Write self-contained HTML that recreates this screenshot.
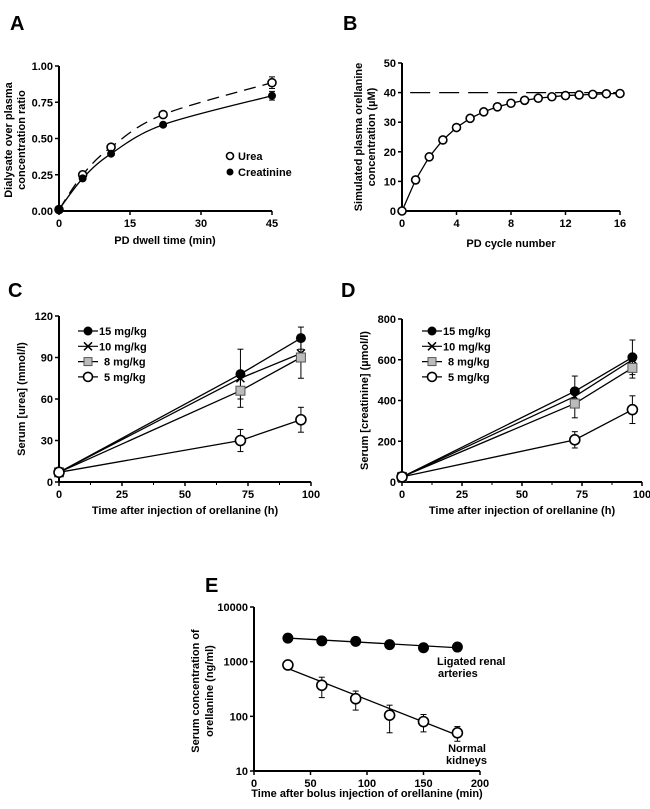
<!DOCTYPE html>
<html><head><meta charset="utf-8"><style>
body{margin:0;background:#fff}
svg{display:block;font-family:"Liberation Sans",Arial,sans-serif;font-weight:bold}
</style></head><body>
<svg id="fig" width="650" height="809" viewBox="0 0 650 809"></svg>
<script>
// ---- Panel A data
const aTime=[0,5,11,22,45];
const aUrea=[0.01,0.25,0.44,0.665,0.885];
const aUreaErr=[0,0.01,0.01,0.01,0.04];
const aCreat=[0.01,0.225,0.395,0.595,0.795];
const aCreatErr=[0,0.01,0.01,0.01,0.03];
const aXTicks=[0,15,30,45];
const aYTicks=[0,0.25,0.5,0.75,1.0];
// ---- Panel B data
const bCycle=[0,1,2,3,4,5,6,7,8,9,10,11,12,13,14,15,16];
const bConc=[0,10.5,18.3,24,28.2,31.3,33.5,35.2,36.4,37.4,38.1,38.6,39,39.2,39.4,39.6,39.7];
const bXTicks=[0,4,8,12,16];
const bYTicks=[0,10,20,30,40,50];
// ---- Panel C / D data
const cdTime=[0,72,96];
const cdSeries=["15 mg/kg","10 mg/kg","8 mg/kg","5 mg/kg"];
const cUrea15=[7,78,104], cUrea15Err=[1,18,8];
const cUrea10=[7,75,93], cUrea10Err=[1,0,0];
const cUrea8=[7,66,90], cUrea8Err=[1,12,15];
const cUrea5=[7,30,45], cUrea5Err=[1,8,9];
const dCre15=[25,445,612], dCre15Err=[5,75,85];
const dCre10=[25,420,600], dCre10Err=[5,0,0];
const dCre8=[25,385,560], dCre8Err=[5,70,50];
const dCre5=[25,207,355], dCre5Err=[5,40,68];
const cdXTicks=[0,25,50,75,100];
const cYTicks=[0,30,60,90,120];
const dYTicks=[0,200,400,600,800];
// ---- Panel E data
const eTime=[30,60,90,120,150,180];
const eLigated=[2700,2400,2350,2050,1800,1850];
const eNormal=[870,370,210,105,80,50];
const eNormalErr=[150,150,80,55,28,15];
const eLigFit=[2700,1800];
const eNormFit=[750,45];
const eXTicks=[0,50,100,150,200];
const eYTicks=[10,100,1000,10000];

const svg=document.getElementById('fig');
const NS='http://www.w3.org/2000/svg';
function mk(tag,attrs,name,parent){
  const e=document.createElementNS(NS,tag);
  for(const k in attrs)e.setAttribute(k,attrs[k]);
  
  
  (parent||svg).appendChild(e);return e;
}
function txt(x,y,s,name,o){
  o=o||{};
  const t=mk('text',{x:x,y:y,'font-size':o.fs||11,'text-anchor':o.anchor||'middle',fill:'#000'},name,o.p);
  if(o.rot)t.setAttribute('transform','rotate(-90 '+x+' '+y+')');
  t.textContent=s;return t;
}
function lin(a0,a1,p0,p1){return v=>p0+(v-a0)/(a1-a0)*(p1-p0);}
function logS(a0,a1,p0,p1){return v=>p0+(Math.log10(v)-Math.log10(a0))/(Math.log10(a1)-Math.log10(a0))*(p1-p0);}
function axes(X,Y,xt,yt,x0,y0,x1,y1,fmtY,pre,minor){
  mk('line',{x1:x0,y1:y0,x2:x0,y2:y1,stroke:'#000','stroke-width':2},pre+'-y-axis');
  mk('line',{x1:x0,y1:y0,x2:x1,y2:y0,stroke:'#000','stroke-width':2},pre+'-x-axis');
  xt.forEach(v=>{mk('line',{x1:X(v),y1:y0,x2:X(v),y2:y0+4,stroke:'#000','stroke-width':1.5},pre+'-x-tick');
    txt(X(v),y0+16,String(v),pre+'-x-tick-label');});
  if(minor){for(let i=0;i<xt.length-1;i++){const m=(xt[i]+xt[i+1])/2;
    mk('line',{x1:X(m),y1:y0,x2:X(m),y2:y0+3,stroke:'#000','stroke-width':1},pre+'-x-minor-tick');}}
  yt.forEach(v=>{mk('line',{x1:x0-4,y1:Y(v),x2:x0,y2:Y(v),stroke:'#000','stroke-width':1.5},pre+'-y-tick');
    txt(x0-6,Y(v)+4,fmtY(v),pre+'-y-tick-label',{anchor:'end'});});
}
function path(xs,ys,X,Y,name,dash,w){
  const d=xs.map((x,i)=>(i?'L':'M')+X(x)+','+Y(ys[i])).join(' ');
  const a={d:d,fill:'none',stroke:'#000','stroke-width':w||1.3};
  if(dash)a['stroke-dasharray']=dash;
  return mk('path',a,name);
}
function smooth(xs,ys,X,Y,name,dash){
  const P=xs.map((x,i)=>[X(x),Y(ys[i])]);
  let d='M'+P[0][0]+','+P[0][1];
  for(let i=0;i<P.length-1;i++){
    const p0=P[Math.max(0,i-1)],p1=P[i],p2=P[i+1],p3=P[Math.min(P.length-1,i+2)];
    const c1=[p1[0]+(p2[0]-p0[0])/6,p1[1]+(p2[1]-p0[1])/6];
    const c2=[p2[0]-(p3[0]-p1[0])/6,p2[1]-(p3[1]-p1[1])/6];
    d+=`C${c1[0]},${c1[1]} ${c2[0]},${c2[1]} ${p2[0]},${p2[1]}`;
  }
  const a={d:d,fill:'none',stroke:'#000','stroke-width':1.3};
  if(dash)a['stroke-dasharray']=dash;
  return mk('path',a,name);
}
function err(x,v,e,Y,name){
  if(!e)return;
  mk('line',{x1:x,y1:Y(v-e),x2:x,y2:Y(v+e),stroke:'#000','stroke-width':1},name);
  [v-e,v+e].forEach(z=>mk('line',{x1:x-3,y1:Y(z),x2:x+3,y2:Y(z),stroke:'#000','stroke-width':1},name+'-cap'));
}
function marker(kind,x,y,name,r){
  r=r||4.5;
  if(kind==='filled')return mk('circle',{cx:x,cy:y,r:r,fill:'#000'},name);
  if(kind==='open')return mk('circle',{cx:x,cy:y,r:r,fill:'#fff',stroke:'#000','stroke-width':1.6},name);
  if(kind==='square')return mk('rect',{x:x-r,y:y-r,width:2*r,height:2*r,fill:'#bbb',stroke:'#555','stroke-width':1},name);
  if(kind==='x'){const g=mk('g',{},name);
    mk('path',{d:`M${x-4},${y-4}L${x+4},${y+4}M${x-4},${y+4}L${x+4},${y-4}`,stroke:'#000','stroke-width':1.5},name+'-stroke',g);return g;}
}

// ---------------- Panel A
txt(10,30,'A','panel-a-label',{fs:20,anchor:'start'});
{const X=lin(0,45,59,272),Y=lin(0,1,211,66);
 axes(X,Y,aXTicks,aYTicks,59,211,272,66,v=>v.toFixed(2),'a');
 txt(165,244,'PD dwell time (min)','a-x-axis-title');
 txt(12,140,'Dialysate over plasma','a-y-axis-title',{rot:1});
 txt(25,140,'concentration ratio','a-y-axis-title-2',{rot:1});
 smooth(aTime,aUrea,X,Y,'a-urea-fit','12,7');
 smooth(aTime,aCreat,X,Y,'a-creatinine-fit');
 aTime.forEach((t,i)=>{err(X(t),aUrea[i],aUreaErr[i],Y,'a-urea-error');marker('open',X(t),Y(aUrea[i]),'a-urea-point',4);});
 aTime.forEach((t,i)=>{err(X(t),aCreat[i],aCreatErr[i],Y,'a-creatinine-error');marker('filled',X(t),Y(aCreat[i]),'a-creatinine-point',4);});
 marker('open',230,156,'legend-urea-marker',3.5);txt(238,160,'Urea','legend-urea',{anchor:'start'});
 marker('filled',230,172,'legend-creatinine-marker',3.5);txt(238,176,'Creatinine','legend-creatinine',{anchor:'start'});
}
// ---------------- Panel B
txt(343,30,'B','panel-b-label',{fs:20,anchor:'start'});
{const X=lin(0,16,402,620),Y=lin(0,50,211,63);
 axes(X,Y,bXTicks,bYTicks,402,211,620,63,v=>String(v),'b');
 txt(511,247,'PD cycle number','b-x-axis-title');
 txt(362,137,'Simulated plasma orellanine','b-y-axis-title',{rot:1});
 txt(375,137,'concentration (µM)','b-y-axis-title-2',{rot:1});
 mk('line',{x1:X(0.6),y1:Y(40),x2:X(16),y2:Y(40),stroke:'#000','stroke-width':1.3,'stroke-dasharray':'20,9'},'b-steady-state-line');
 path(bCycle,bConc,X,Y,'b-concentration-line');
 bCycle.forEach((c,i)=>marker('open',X(c),Y(bConc[i]),'b-point',4));
}
// ---------------- Panels C & D
function dosePanel(pre,x0,x1,y0,y1,ymax,yt,series,errs,ytitle,lx){
  const X=lin(0,100,x0,x1),Y=lin(0,ymax,y0,y1);
  axes(X,Y,cdXTicks,yt,x0,y0,x1,y1,v=>String(v),pre,true);
  txt((x0+x1)/2,y0+32,'Time after injection of orellanine (h)',pre+'-x-axis-title');
  txt(x0-34,(y0+y1)/2,ytitle,pre+'-y-axis-title',{rot:1});
  const kinds=['filled','x','square','open'];
  series.forEach((s,k)=>{
    path(cdTime,s,X,Y,pre+'-line-'+k);
    cdTime.forEach((t,i)=>err(X(t),s[i],errs[k][i],Y,pre+'-error-'+k));
  });
  series.forEach((s,k)=>cdTime.forEach((t,i)=>marker(kinds[k],X(t),Y(s[i]),pre+'-point-'+k,kinds[k]==='square'?4.5:5)));
  cdSeries.forEach((n,k)=>{const yy=331+k*15.3;
    mk('line',{x1:lx,y1:yy,x2:lx+20,y2:yy,stroke:'#000','stroke-width':1.2},pre+'-legend-line');
    marker(kinds[k],lx+10,yy,pre+'-legend-marker',kinds[k]==='square'?4:4.5);
    txt(lx+(k>1?26:21),yy+4,n,pre+'-legend-label',{anchor:'start'});});
}
txt(8,297,'C','panel-c-label',{fs:20,anchor:'start'});
txt(341,297,'D','panel-d-label',{fs:20,anchor:'start'});
dosePanel('c',59,311,482,316,120,cYTicks,[cUrea15,cUrea10,cUrea8,cUrea5],[cUrea15Err,cUrea10Err,cUrea8Err,cUrea5Err],'Serum [urea] (mmol/l)',78);
dosePanel('d',402,642,482,319,800,dYTicks,[dCre15,dCre10,dCre8,dCre5],[dCre15Err,dCre10Err,dCre8Err,dCre5Err],'Serum [creatinine] (µmol/l)',422);
// ---------------- Panel E
txt(205,592,'E','panel-e-label',{fs:20,anchor:'start'});
{const X=lin(0,200,254,480),Y=logS(10,10000,771,607);
 axes(X,Y,eXTicks,eYTicks,254,771,480,607,v=>String(v),'e');
 txt(367,797,'Time after bolus injection of orellanine (min)','e-x-axis-title');
 txt(199,691,'Serum concentration of','e-y-axis-title',{rot:1});
 txt(213,691,'orellanine (ng/ml)','e-y-axis-title-2',{rot:1});
 path([eTime[0],eTime[eTime.length-1]],eLigFit,X,Y,'e-ligated-fit');
 path([eTime[0],eTime[eTime.length-1]],eNormFit,X,Y,'e-normal-fit');
 eTime.forEach((t,i)=>marker('filled',X(t),Y(eLigated[i]),'e-ligated-point',5.5));
 eTime.forEach((t,i)=>{const x=X(t);
   mk('line',{x1:x,y1:Y(eNormal[i]-eNormalErr[i]),x2:x,y2:Y(eNormal[i]+eNormalErr[i]),stroke:'#000','stroke-width':1},'e-normal-error');
   [eNormal[i]-eNormalErr[i],eNormal[i]+eNormalErr[i]].forEach(z=>mk('line',{x1:x-3,y1:Y(z),x2:x+3,y2:Y(z),stroke:'#000','stroke-width':1},'e-normal-error-cap'));
   marker('open',x,Y(eNormal[i]),'e-normal-point',5);});
 txt(437,665,'Ligated renal','e-ligated-label',{anchor:'start'});
 txt(438,677,'arteries','e-ligated-label-2',{anchor:'start'});
 txt(486,752,'Normal','e-normal-label',{anchor:'end'});
 txt(487,764,'kidneys','e-normal-label-2',{anchor:'end'});
}
</script>
</body></html>
